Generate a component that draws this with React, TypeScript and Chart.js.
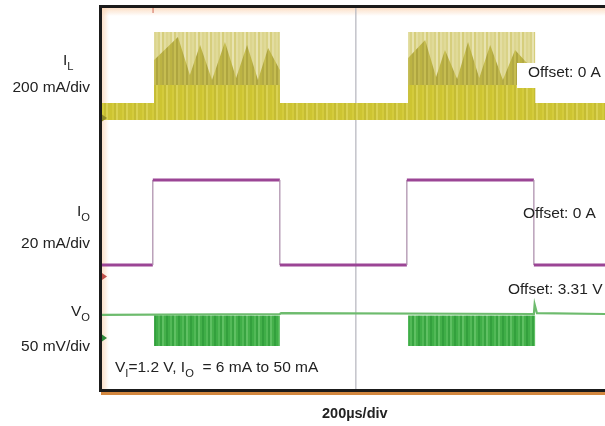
import React, { useEffect, useRef } from "react";
import { Chart, registerables } from "chart.js";

Chart.register(...registerables);

// Time base in microseconds (200 µs per division)
const timeMinUs = 0;
const timeMaxUs = 1980;
const centerLineUs = 1000;
const triggerUs = 200;

// Load step edges and output current I_O (mA), 6 mA <-> 50 mA
const ioTimesUs = [0, 200, 200, 700, 700, 1200, 1200, 1700, 1700, 1980];
const ioCurrentMA = [6, 6, 50, 50, 6, 6, 50, 50, 6, 6];

// Inductor current I_L (mA): switching envelopes
const ilEdgeTimesUs = [0, 205, 205, 700, 700, 1205, 1205, 1705, 1705, 1980];
const ilEnvelopeTopMA = [75, 75, 430, 430, 75, 75, 430, 430, 75, 75];
const ilDenseTopMA = [75, 75, 165, 165, 75, 75, 165, 165, 75, 75];
const ilFloorMA = -10;

// Inductor current ripple peaks during the heavy-load bursts
const ilPeakTimesUs = [0, 205, 205, 299, 346, 386, 433, 484, 528, 571, 614, 654, 700, 700,
  1205, 1205, 1272, 1315, 1350, 1398, 1441, 1485, 1528, 1578, 1626, 1705, 1705, 1980];
const ilPeakMA = [-10, -10, 290, 405, 215, 365, 190, 380, 200, 365, 190, 350, 240, -10,
  -10, 300, 390, 205, 340, 195, 380, 200, 365, 190, 340, 230, -10, -10];

// Output voltage V_O (V): ripple band during the bursts
const voEdgeTimesUs = [0, 205, 205, 700, 700, 1205, 1205, 1705, 1705, 1980];
const voBandHighV = [3.34, 3.34, 3.338, 3.338, 3.34, 3.34, 3.338, 3.338, 3.34, 3.34];
const voBandLowV = [3.34, 3.34, 3.3, 3.3, 3.34, 3.34, 3.3, 3.3, 3.34, 3.34];
const voTraceTimesUs = [0, 700, 705, 1700, 1703, 1712, 1980];
const voTraceV = [3.339, 3.34, 3.341, 3.34, 3.352, 3.341, 3.34];

// Channel scales and offsets
const ilRangeMA = [-1355, 550];
const ioRangeMA = [-58.2, 139.0];
const voRangeV = [3.24625, 3.7225];
const ilOffsetMA = 0;
const ioOffsetMA = 0;
const voOffsetV = 3.31;

const FONT = '"Liberation Sans", Arial, Helvetica, sans-serif';

type Run = { t: string; sub?: boolean };

function drawRuns(
  ctx: CanvasRenderingContext2D,
  runs: Run[],
  x: number,
  y: number,
  size: number,
  align: "left" | "right" = "left",
  bold = false
) {
  const subSize = size * 0.72;
  const fontOf = (s: number) => `${bold ? "bold " : ""}${s}px ${FONT}`;
  let total = 0;
  for (const r of runs) {
    ctx.font = fontOf(r.sub ? subSize : size);
    total += ctx.measureText(r.t).width;
  }
  let cx = align === "right" ? x - total : x;
  ctx.textAlign = "left";
  ctx.textBaseline = "alphabetic";
  for (const r of runs) {
    ctx.font = fontOf(r.sub ? subSize : size);
    ctx.fillText(r.t, cx, r.sub ? y + size * 0.3 : y);
    cx += ctx.measureText(r.t).width;
  }
}

function stripes(cols: string[], w: number) {
  const c = document.createElement("canvas");
  c.width = cols.length * w;
  c.height = 4;
  const g = c.getContext("2d")!;
  cols.forEach((col, i) => {
    g.fillStyle = col;
    g.fillRect(i * w, 0, w, 4);
  });
  return g.createPattern(c, "repeat")!;
}

const pts = (xs: number[], ys: number[]) => xs.map((x, i) => ({ x, y: ys[i] }));

export default function App() {
  const ref = useRef<HTMLCanvasElement>(null);

  useEffect(() => {
    const canvas = ref.current!;

    const ilLowPattern = stripes(
      ["#d4ca34", "#d8cf45", "#e6e0a6", "#cfc531", "#d9d04c", "#ebe6b4", "#d3c93a", "#ddd564"],
      2
    );
    const ilPalePattern = stripes(
      ["#e0da98", "#d9d286", "#e8e3b0", "#d6ce7c", "#e3dda2", "#dcd58e"],
      2
    );
    const ilOlivePattern = stripes(
      ["#bcb343", "#b3aa44", "#c6bd50", "#aea540", "#c1b84f"],
      2
    );
    const ilDensePattern = stripes(
      ["#cdc431", "#d4cb3c", "#c5bc34", "#d9d152", "#cbc23a"],
      2
    );
    const voBandPattern = stripes(
      ["#3fae47", "#52b957", "#38a441", "#5fc063", "#44b04a", "#33a03d"],
      2
    );

    const framePlugin = {
      id: "scopeFrame",
      beforeDatasetsDraw(chart: any) {
        const { ctx, chartArea: a, scales } = chart;
        ctx.save();
        // warm tint along the inner top and left edges of the screen
        let g = ctx.createLinearGradient(0, a.top, 0, a.top + 8);
        g.addColorStop(0, "rgba(250,212,180,0.75)");
        g.addColorStop(1, "rgba(250,212,180,0)");
        ctx.fillStyle = g;
        ctx.fillRect(a.left, a.top, a.right - a.left, 8);
        g = ctx.createLinearGradient(a.left, 0, a.left + 7, 0);
        g.addColorStop(0, "rgba(250,212,180,0.7)");
        g.addColorStop(1, "rgba(250,212,180,0)");
        ctx.fillStyle = g;
        ctx.fillRect(a.left, a.top, 7, a.bottom - a.top);

        // centre graticule line
        const cx = scales.x.getPixelForValue(centerLineUs);
        ctx.fillStyle = "rgba(185,185,192,0.8)";
        ctx.fillRect(Math.round(cx) - 1, a.top, 1.6, a.bottom - a.top);
        ctx.restore();
      },
      afterDatasetsDraw(chart: any) {
        const { ctx, chartArea: a, scales } = chart;
        ctx.save();
        // screen border
        ctx.fillStyle = "#1b1b1b";
        ctx.fillRect(a.left - 3, a.top - 3, a.right - a.left + 3, 3);
        ctx.fillRect(a.left - 3, a.top - 3, 3, a.bottom - a.top + 6);
        ctx.fillRect(a.left - 3, a.bottom, a.right - a.left + 3, 3);
        ctx.fillStyle = "#d3873f";
        ctx.fillRect(a.left - 1, a.bottom + 3, a.right - a.left + 1, 3);

        // channel ground markers on the left edge
        const marker = (y: number, col: string) => {
          ctx.fillStyle = col;
          ctx.beginPath();
          ctx.moveTo(a.left, y - 3.5);
          ctx.lineTo(a.left + 5, y);
          ctx.lineTo(a.left, y + 3.5);
          ctx.closePath();
          ctx.fill();
        };
        marker(scales.yIL.getPixelForValue(ilOffsetMA), "#8f8a2a");
        marker(scales.yIO.getPixelForValue(ioOffsetMA), "#c0504a");
        marker(scales.yVO.getPixelForValue(voOffsetV), "#2f8a3a");

        // trigger position marker at the top
        const tx = scales.x.getPixelForValue(triggerUs);
        ctx.fillStyle = "rgba(205,90,70,0.6)";
        ctx.fillRect(tx - 0.5, a.top, 1.5, 5);
        ctx.restore();
      },
      afterDraw(chart: any) {
        const { ctx } = chart;
        ctx.save();
        ctx.fillStyle = "#222";
        // channel labels
        drawRuns(ctx, [{ t: "I" }, { t: "L", sub: true }], 63, 65, 15.5);
        drawRuns(ctx, [{ t: "200 mA/div" }], 90, 92, 15.5, "right");
        drawRuns(ctx, [{ t: "I" }, { t: "O", sub: true }], 90, 216, 15.5, "right");
        drawRuns(ctx, [{ t: "20 mA/div" }], 90, 248, 15.5, "right");
        drawRuns(ctx, [{ t: "V" }, { t: "O", sub: true }], 90, 316, 15.5, "right");
        drawRuns(ctx, [{ t: "50 mV/div" }], 90, 351, 15.5, "right");

        // offsets
        ctx.fillStyle = "#ffffff";
        ctx.fillRect(517, 63, 88, 25);
        ctx.fillStyle = "#222";
        drawRuns(ctx, [{ t: "Offset: 0 A" }], 528, 77, 15.5);
        drawRuns(ctx, [{ t: "Offset: 0 A" }], 523, 218, 15.5);
        drawRuns(ctx, [{ t: "Offset: 3.31 V" }], 508, 294, 15.5);

        // test conditions
        drawRuns(
          ctx,
          [
            { t: "V" },
            { t: "I", sub: true },
            { t: "=1.2 V, I" },
            { t: "O", sub: true },
            { t: "  = 6 mA to 50 mA" },
          ],
          115,
          372,
          15.5
        );

        // time base
        drawRuns(ctx, [{ t: "200µs/div" }], 322, 418, 14.5, "left", true);
        ctx.restore();
      },
    };

    const chart = new Chart(canvas, {
      type: "line",
      data: {
        datasets: [
          {
            label: "I_O",
            yAxisID: "yIO",
            data: pts(ioTimesUs, ioCurrentMA),
            borderColor: "#9b4595",
            borderWidth: 3,
            pointRadius: 0,
            fill: false,
            order: 1,
            segment: {
              borderWidth: (c: any) => (c.p0.parsed.x === c.p1.parsed.x ? 1.2 : 3),
              borderColor: (c: any) => (c.p0.parsed.x === c.p1.parsed.x ? "#a98aa8" : "#9b4595"),
            },
          },
          {
            label: "V_O band",
            yAxisID: "yVO",
            data: pts(voEdgeTimesUs, voBandHighV),
            borderColor: "transparent",
            borderWidth: 0,
            backgroundColor: voBandPattern,
            pointRadius: 0,
            fill: "+1",
            order: 2,
          },
          {
            label: "V_O band low",
            yAxisID: "yVO",
            data: pts(voEdgeTimesUs, voBandLowV),
            borderColor: "transparent",
            borderWidth: 0,
            pointRadius: 0,
            fill: false,
            order: 3,
          },
          {
            label: "V_O",
            yAxisID: "yVO",
            data: pts(voTraceTimesUs, voTraceV),
            borderColor: "#6dbb6d",
            borderWidth: 2.2,
            pointRadius: 0,
            fill: false,
            order: 4,
          },
          {
            label: "I_L dense",
            yAxisID: "yIL",
            data: pts(ilEdgeTimesUs, ilDenseTopMA),
            borderColor: "transparent",
            borderWidth: 0,
            backgroundColor: ilDensePattern,
            pointRadius: 0,
            fill: { value: ilFloorMA },
            order: 5,
          },
          {
            label: "I_L peaks",
            yAxisID: "yIL",
            data: pts(ilPeakTimesUs, ilPeakMA),
            borderColor: "transparent",
            borderWidth: 0,
            backgroundColor: ilOlivePattern,
            pointRadius: 0,
            fill: { value: ilFloorMA },
            order: 6,
          },
          {
            label: "I_L envelope",
            yAxisID: "yIL",
            data: pts(ilEdgeTimesUs, ilEnvelopeTopMA),
            borderColor: "transparent",
            borderWidth: 0,
            backgroundColor: ilPalePattern,
            pointRadius: 0,
            fill: { value: ilFloorMA },
            order: 8,
          },
          {
            label: "I_L low band",
            yAxisID: "yIL",
            data: pts([timeMinUs, timeMaxUs], [ilEnvelopeTopMA[0], ilEnvelopeTopMA[0]]),
            borderColor: "transparent",
            borderWidth: 0,
            backgroundColor: ilLowPattern,
            pointRadius: 0,
            fill: { value: ilFloorMA },
            order: 7,
          },
        ] as any,
      },
      options: {
        responsive: false,
        animation: false,
        events: [],
        layout: { padding: { left: 102, top: 8, right: 0, bottom: 37 } },
        elements: { line: { tension: 0 } },
        plugins: {
          legend: { display: false },
          tooltip: { enabled: false },
          title: { display: false },
        },
        scales: {
          x: {
            type: "linear",
            min: timeMinUs,
            max: timeMaxUs,
            ticks: { display: false },
            border: { display: false },
            grid: { display: false, drawTicks: false },
          },
          yIL: { type: "linear", display: false, min: ilRangeMA[0], max: ilRangeMA[1] },
          yIO: { type: "linear", display: false, min: ioRangeMA[0], max: ioRangeMA[1] },
          yVO: { type: "linear", display: false, min: voRangeV[0], max: voRangeV[1] },
        },
      },
      plugins: [framePlugin],
    } as any);

    return () => chart.destroy();
  }, []);

  return (
    <div
      style={{
        position: "fixed",
        left: 0,
        top: 0,
        width: 605,
        height: 426,
        background: "#ffffff",
        overflow: "hidden",
      }}
    >
      <canvas ref={ref} width={605} height={426} style={{ display: "block", width: 605, height: 426 }} />
    </div>
  );
}
